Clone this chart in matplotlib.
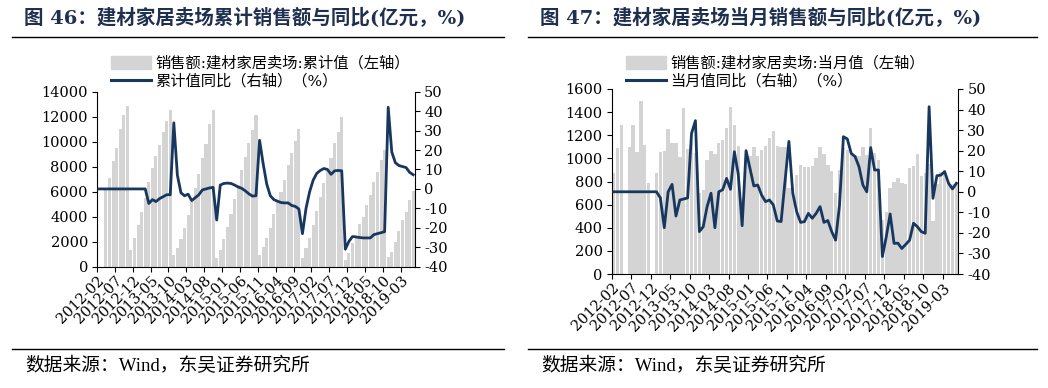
import numpy as np
import matplotlib
matplotlib.use("Agg")
import matplotlib.pyplot as plt
import matplotlib.transforms as mtransforms
from matplotlib.lines import Line2D
from matplotlib.patches import Patch

plt.rcParams['font.family'] = ['DejaVu Serif', 'Noto Sans CJK SC']
plt.rcParams['axes.unicode_minus'] = False

nan = np.nan

# x axis tick labels (one every 5 months, data runs 2012-02 .. 2019-06)
tick_labels = ['2012-02', '2012-07', '2012-12', '2013-05', '2013-10', '2014-03',
               '2014-08', '2015-01', '2015-06', '2015-11', '2016-04', '2016-09',
               '2017-02', '2017-07', '2017-12', '2018-05', '2018-10', '2019-03']

# left chart: cumulative sales (亿元) and cumulative yoy (%)
cum_sales = [nan, nan, 6100, 7100, 8450, 9500, 11050, 12100, 12850,
             1330, 2270, 3330, 4400, 5470, 6800, 7870, 8850, 9730, 10800, 11650, 12530,
             935, 1500, 2200, 3100, 4100, 5200, 6300, 7400, 8700, 9800, 11400, 12500,
             720, 1350, 2250, 3200, 4250, 5450, 6500, 7700, 8800, 9900, 10900, 12100,
             936, 1600, 2320, 3070, 4190, 5200, 6000, 6936, 8136, 9070, 10056, 10990,
             720, 1470, 2270, 3336, 4456, 5600, 6672, 7736, 8672, 9872, 10800, 12000,
             536, 1070, 1870, 2400, 3390, 4000, 4936, 5736, 6800, 7600, 8536, 9336,
             800, 1200, 2000, 2856, 3736, 4400, 5336, 6056]
cum_yoy = [0, 0, 0, 0, 0, 0, 0, 0, 0, 0, 0, 0, 0, 0,
           -7.5, -5.5, -6.5, -5, -4, -3, -3,
           34, 7, -2, -3.5, -2.7, -6, -4.5, -3, -0.5, 0, 0.5, 0.8,
           -16, 2, 2.8, 3, 2.8, 2, 1, 0.3, -1, -2.5, -3.7, -3.5,
           25, 13, 2.5, -3.5, -5.5, -6.3, -7, -7.2, -7.2, -8.5, -9, -10.3,
           -23, -10, -1.5, 4.5, 8, 9.5, 10.5, 10, 7.5, 9.3, 9.5, 9.3,
           -31, -27, -24.5, -24.7, -25, -25.2, -25.2, -25.2, -23.5, -23, -22.5, -22,
           42, 19, 13.5, 12, 11.5, 11, 8.5, 7.3]

# right chart: monthly sales (亿元) and monthly yoy (%)
mon_sales = [870, 1090, 1285, nan, 1095, 1288, 1055, 1500, 1115, 790, nan, 876,
             1058, 1068, 1252, 1137, 1137, 1014, 1437, 1085, 1150, 1050, 700, 730,
             990, 1060, 1035, 1135, 1155, 1260, 1445, 1288, 1105, 650, 975, 1020,
             1100, 1020, 1072, 1110, 1180, 1240, 1107, 1100, 1095, 740, 740, 860,
             940, 928, 925, 935, 1000, 1095, 1040, 940, 890, 700, 900, 1090,
             1070, 1043, 1030, 1020, 1100, 1030, 1260, 1043, 986, 470, 540, 740,
             798, 830, 784, 775, 920, 930, 1040, 850, 870, 950, 455, 780,
             880, 900, 800, 780, 800]
mon_yoy = [0, 0, 0, 0, 0, 0, 0, 0, 0, 0, 0, 0,
           -3, -17.5, 0, 3.6, -11.8, -4, -3.5, -3, 28.4, 34.6, -19.4, -17,
           -7.2, -0.7, -17.5, 0, 1, 6.5, 1.2, 19.5, 8.5, -16.5, 20, 11.4,
           2.8, 3.3, -1.6, -4.8, -4, -6.4, -14.2, -14.5, 5, 24.5, -0.7, -9.7,
           -14.9, -14.5, -10.5, -12.9, -10.5, -7.2, -14.9, -14, -19.4, -23.5, -6.4, 26.8,
           25.7, 18.7, 17.1, 12.2, 3.3, 0, 21.5, 10.6, 10.6, -31.5, -21.9, -10.8,
           -25.1, -25, -27.6, -25.6, -23.5, -15.3, -17, -19.4, -20.2, 41.4, -3.2, 7.8,
           8.1, 9.8, 4.1, 1.4, 4.1]

BAR = '#D4D4D4'
NAVY = '#17375E'
TITLE_C = '#1F2F4F'
W, H = 1048, 388

fig = plt.figure(figsize=(W / 100, H / 100), dpi=100)


def px(x0, y0, x1, y1):
    # pixel box -> figure fraction rect
    return [x0 / W, 1 - y1 / H, (x1 - x0) / W, (y1 - y0) / H]


def panel(rect, sales, yoy, ymax, ystep, labels, title, tx, rule, leg_xy):
    ax = fig.add_axes(rect)
    x = np.arange(len(sales))
    ax.bar(x, sales, width=0.86, color=BAR, zorder=1)
    ax.set_xlim(-0.5, len(sales) - 0.5)
    ax.set_ylim(0, ymax)
    ax.set_yticks(np.arange(0, ymax + 1, ystep))
    ax.set_xticks(np.arange(len(tick_labels)) * 5 - 0.5)
    ax.set_xticklabels(tick_labels)
    ax2 = ax.twinx()
    ax2.plot(x, yoy, color=NAVY, lw=2.0, zorder=3)
    ax2.set_ylim(-40, 50)
    ax2.set_yticks(np.arange(-40, 51, 10))

    for a in (ax, ax2):
        a.spines['top'].set_visible(False)
        for s in a.spines.values():
            s.set_linewidth(0.8)
            s.set_color('black')
        a.tick_params(labelsize=10.5, length=3.5, width=0.8, colors='black')
    ax.spines['right'].set_visible(False)
    ax2.spines['left'].set_visible(False)
    ax2.spines['bottom'].set_visible(False)
    ax.tick_params(axis='y', pad=3)
    ax2.tick_params(axis='y', pad=3)
    ax.tick_params(axis='x', pad=5)

    off = mtransforms.ScaledTranslation(0.05, 0, fig.dpi_scale_trans)
    for lab in ax.get_xticklabels():
        lab.set_rotation(45)
        lab.set_rotation_mode('anchor')
        lab.set_ha('right')
        lab.set_va('center')
        lab.set_transform(lab.get_transform() + off)

    handles = [Patch(color=BAR), Line2D([0], [0], color=NAVY, lw=2.2)]
    fig.legend(handles, labels, loc='upper left',
               bbox_to_anchor=(leg_xy[0] / W, 1 - leg_xy[1] / H),
               frameon=False, handlelength=2.6, handleheight=0.9,
               handletextpad=0.3, labelspacing=0.22, borderpad=0, borderaxespad=0,
               prop={'family': ['DejaVu Serif', 'Noto Sans CJK SC'], 'size': 11})

    fig.text(tx / W, 1 - 18 / H, title, fontsize=14, fontweight='bold',
             color=TITLE_C, va='center', ha='left')
    fig.add_artist(Line2D([rule[0] / W, rule[1] / W], [1 - 37 / H] * 2,
                          color='black', lw=1.0))
    fig.add_artist(Line2D([rule[0] / W, rule[1] / W], [1 - 349 / H] * 2,
                          color='black', lw=1.0))
    fig.text((tx + 1) / W, 1 - 366 / H, '数据来源：Wind，东吴证券研究所',
             fontsize=13.5, va='center', ha='left',
             family=['Liberation Serif', 'Noto Sans CJK SC'])
    return ax, ax2


panel(px(97, 91.7, 415, 266.7), cum_sales, cum_yoy, 14000, 2000,
      ['销售额:建材家居卖场:累计值（左轴）', '累计值同比（右轴）（%）'],
      '图 46：建材家居卖场累计销售额与同比(亿元，%)', 24, (12, 504), (111, 56))

panel(px(611.7, 89, 958.3, 274), mon_sales, mon_yoy, 1600, 200,
      ['销售额:建材家居卖场:当月值（左轴）', '当月值同比（右轴）（%）'],
      '图 47：建材家居卖场当月销售额与同比(亿元，%)', 540, (528, 1037), (626, 56))

fig.savefig('out.png', dpi=100)
